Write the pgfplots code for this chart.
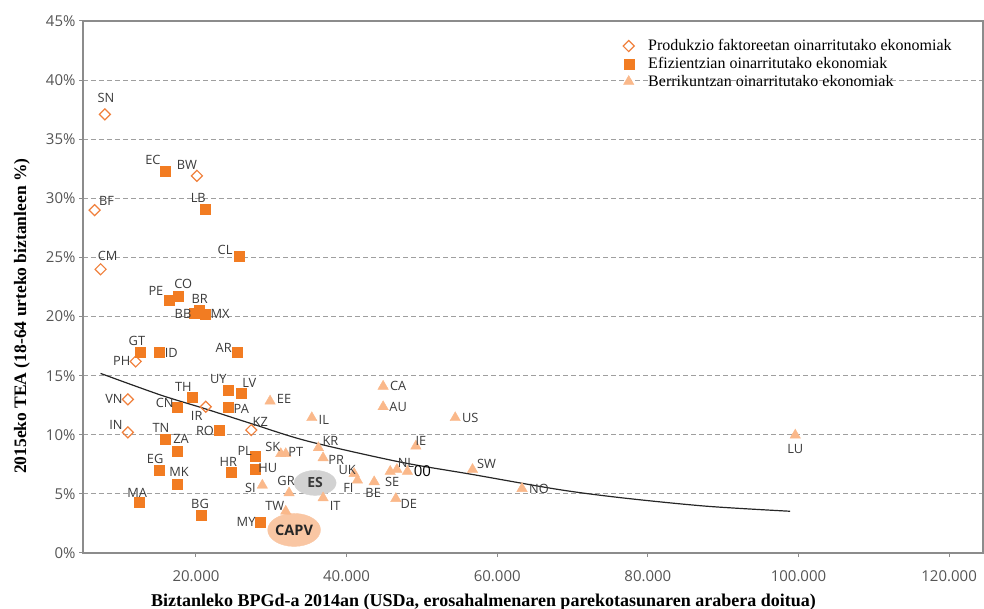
\documentclass[border=0pt]{standalone}
\usepackage{pgfplots}
\pgfplotsset{compat=1.18}
\usepackage{pgfplotstable}
\usepackage{fontspec}
\setmainfont{Liberation Serif}
\newfontfamily\osans{Open Sans}

\definecolor{diam}{HTML}{F0803C}
\definecolor{sq}{HTML}{F27C22}
\definecolor{tri}{HTML}{FAB88A}
\definecolor{esgray}{HTML}{D2D2D2}
\definecolor{capv}{HTML}{F9C6A3}
\definecolor{labgray}{HTML}{3A3A3A}
\definecolor{tickgray}{HTML}{555555}
\definecolor{axgray}{HTML}{8C8C8C}

\newcommand{\labfont}{\osans\fontsize{12.8}{14}\selectfont}

\pgfplotsset{
  countrylabels/.style={
    point meta=explicit symbolic,
    nodes near coords,
    visualization depends on={\thisrow{dx} \as \dx},
    visualization depends on={\thisrow{dy} \as \dy},
    every node near coord/.append style={anchor=center, xshift=\dx*1pt, yshift=\dy*1pt,
        font=\labfont, text=labgray, inner sep=0pt},
  },
}

% x = BPGd per capita (USD), y = TEA %, label offsets in pt
\pgfplotstableread{
x y lab dx dy
7910 37.1 SN 1 16
20130 31.9 BW -10 11
6540 29.0 BF 12 9
7340 24.0 CM 7 13
11990 16.2 PH -14 1
10960 13.0 VN -14 0
10960 10.2 IN -12 7
21290 12.37 IR -9 -9
27350 10.4 KZ 9 8
}\diamonds

\pgfplotstableread{
x y lab dx dy
15880 32.3 EC -12 11
21240 29.1 LB -7 11
25720 25.1 CL -14 6
16410 21.4 PE -13 9
17650 21.75 CO 5 12
19740 20.25 BB -11 0
21200 20.2 MX 15 0
20490 20.5 BR 0 12
12560 17.0 GT -3 11
15120 17.0 ID 12 -1
25540 17.0 AR -14 4
24290 13.8 UY -10 11
26020 13.55 LV 8 10
19510 13.2 TH -9 10
17570 12.37 CN -13 4
24290 12.37 PA 13 -2
23060 10.4 RO -14 -1
15880 9.6 TN -4 12
17480 8.64 ZA 4 12
15120 7.03 EG -4 11
17480 5.85 MK 2 12
12470 4.3 MA -2 9
20670 3.2 BG -1 11
24690 6.84 HR -3 10
27800 8.16 PL -10 6
27800 7.06 HU 13 2
28510 2.6 MY -14 0
}\squares

\pgfplotstableread{
x y lab dx dy
29840 12.85 EE 14 2
44850 14.1 CA 15 0
44850 12.37 AU 15 0
35380 11.44 IL 12 -2
31260 8.4 SK -8 7
31920 8.4 PT 10 2
36260 8.9 KR 12 7
36880 8.05 PR 13 -2
28810 5.73 SI -12 -3
32360 5.08 GR -3 12
31920 3.53 TW -11 5
36880 4.66 IT 12 -8
41000 6.72 UK -7 4
41440 6.16 FI -9 -8
43660 6.02 BE -1 -11
45790 6.9 SE 2 -11
46680 7.06 NL 9 7
48080 6.9 {} 0 0
49200 9.04 IE 5 5
46540 4.6 DE 13 -5
54420 11.44 US 15 0
56720 7.06 SW 14 6
63290 5.45 NO 17 0
99570 9.97 LU 0 -14
}\triangles

\begin{document}
\begin{tikzpicture}
\path[use as bounding box] (-83pt,-56pt) rectangle (901pt,553pt);
\begin{axis}[
    width=900pt, height=532pt, scale only axis,
    xmin=5000, xmax=124500, ymin=0, ymax=45,
    xtick={20000,40000,60000,80000,100000,120000},
    xticklabels={20.000,40.000,60.000,80.000,100.000,120.000},
    scaled x ticks=false,
    ytick={0,5,...,45},
    yticklabels={0\%,5\%,10\%,15\%,20\%,25\%,30\%,35\%,40\%,45\%},
    xtick pos=left, ytick pos=left,
    tick align=outside, major tick length=4pt,
    axis line style={draw=axgray, line width=1.2pt},
    tick style={draw=axgray, line width=1pt},
    ymajorgrids,
    grid style={draw=gray!75, line width=0.8pt, dash pattern=on 5pt off 3pt},
    ticklabel style={font=\osans\fontsize{15}{18}\selectfont, text=tickgray},
    xticklabel style={yshift=-10pt},
    xlabel={Biztanleko BPGd-a 2014an (USDa, erosahalmenaren parekotasunaren arabera doitua)},
    xlabel style={at={(axis description cs:0.445,-0.070)}, anchor=north, font=\bfseries\fontsize{18}{20}\selectfont},
    ylabel={2015eko TEA (18-64 urteko biztanleen \%)},
    ylabel style={at={(axis description cs:-0.068,0.445)}, anchor=center, font=\bfseries\fontsize{17.5}{20}\selectfont},
    legend style={at={(rel axis cs:0.600,0.969)}, anchor=north west, draw=none, fill=none,
        font=\fontsize{16}{18}\selectfont, row sep=1pt, column sep=12pt, inner sep=0pt},
    legend cell align=left,
    clip=false,
]
% ES and CAPV highlights
\addplot[esgray, only marks, mark=*, mark size=12.5pt, forget plot,
    mark options={xscale=1.68, fill=esgray, draw=esgray},
    nodes near coords={\bfseries ES},
    every node near coord/.append style={anchor=center, font=\osans\fontsize{14}{16}\selectfont, text=labgray}]
    coordinates {(35820,5.93)};
\addplot[capv, only marks, mark=*, mark size=16.5pt, forget plot,
    mark options={xscale=1.6, fill=capv, draw=capv},
    nodes near coords={\bfseries CAPV},
    every node near coord/.append style={anchor=center, font=\osans\fontsize{14.5}{16}\selectfont, text=black!85}]
    coordinates {(33030,1.95)};

\addplot[only marks, mark=square, mark size=3.9pt,
    mark options={rotate=45, draw=diam, fill=white, line width=1.2pt},
    countrylabels] table[x=x, y=y, meta=lab] {\diamonds};
\addlegendentry{Produkzio faktoreetan oinarritutako ekonomiak}

\addplot[only marks, mark=square*, mark size=5pt,
    mark options={draw=sq, fill=sq},
    countrylabels] table[x=x, y=y, meta=lab] {\squares};
\addlegendentry{Efizientzian oinarritutako ekonomiak}

\addplot[only marks, mark=triangle*, mark size=6pt,
    mark options={draw=tri, fill=tri},
    countrylabels] table[x=x, y=y, meta=lab] {\triangles};
\addlegendentry{Berrikuntzan oinarritutako ekonomiak}

% trend line
\addplot[black!85, line width=1.2pt, smooth, no marks, forget plot] coordinates {
(7336,15.19) (15310,13.36) (21065,12.23) (27271,10.96) (34793,9.47)
(46980,7.71) (56720,6.64) (68240,5.36) (76660,4.66) (87740,3.96) (98900,3.53)};

\node[font=\osans\fontsize{15}{17}\selectfont, text=black] at (axis cs:48080,6.9) [xshift=15pt] {00};
\end{axis}
\end{tikzpicture}
\end{document}
